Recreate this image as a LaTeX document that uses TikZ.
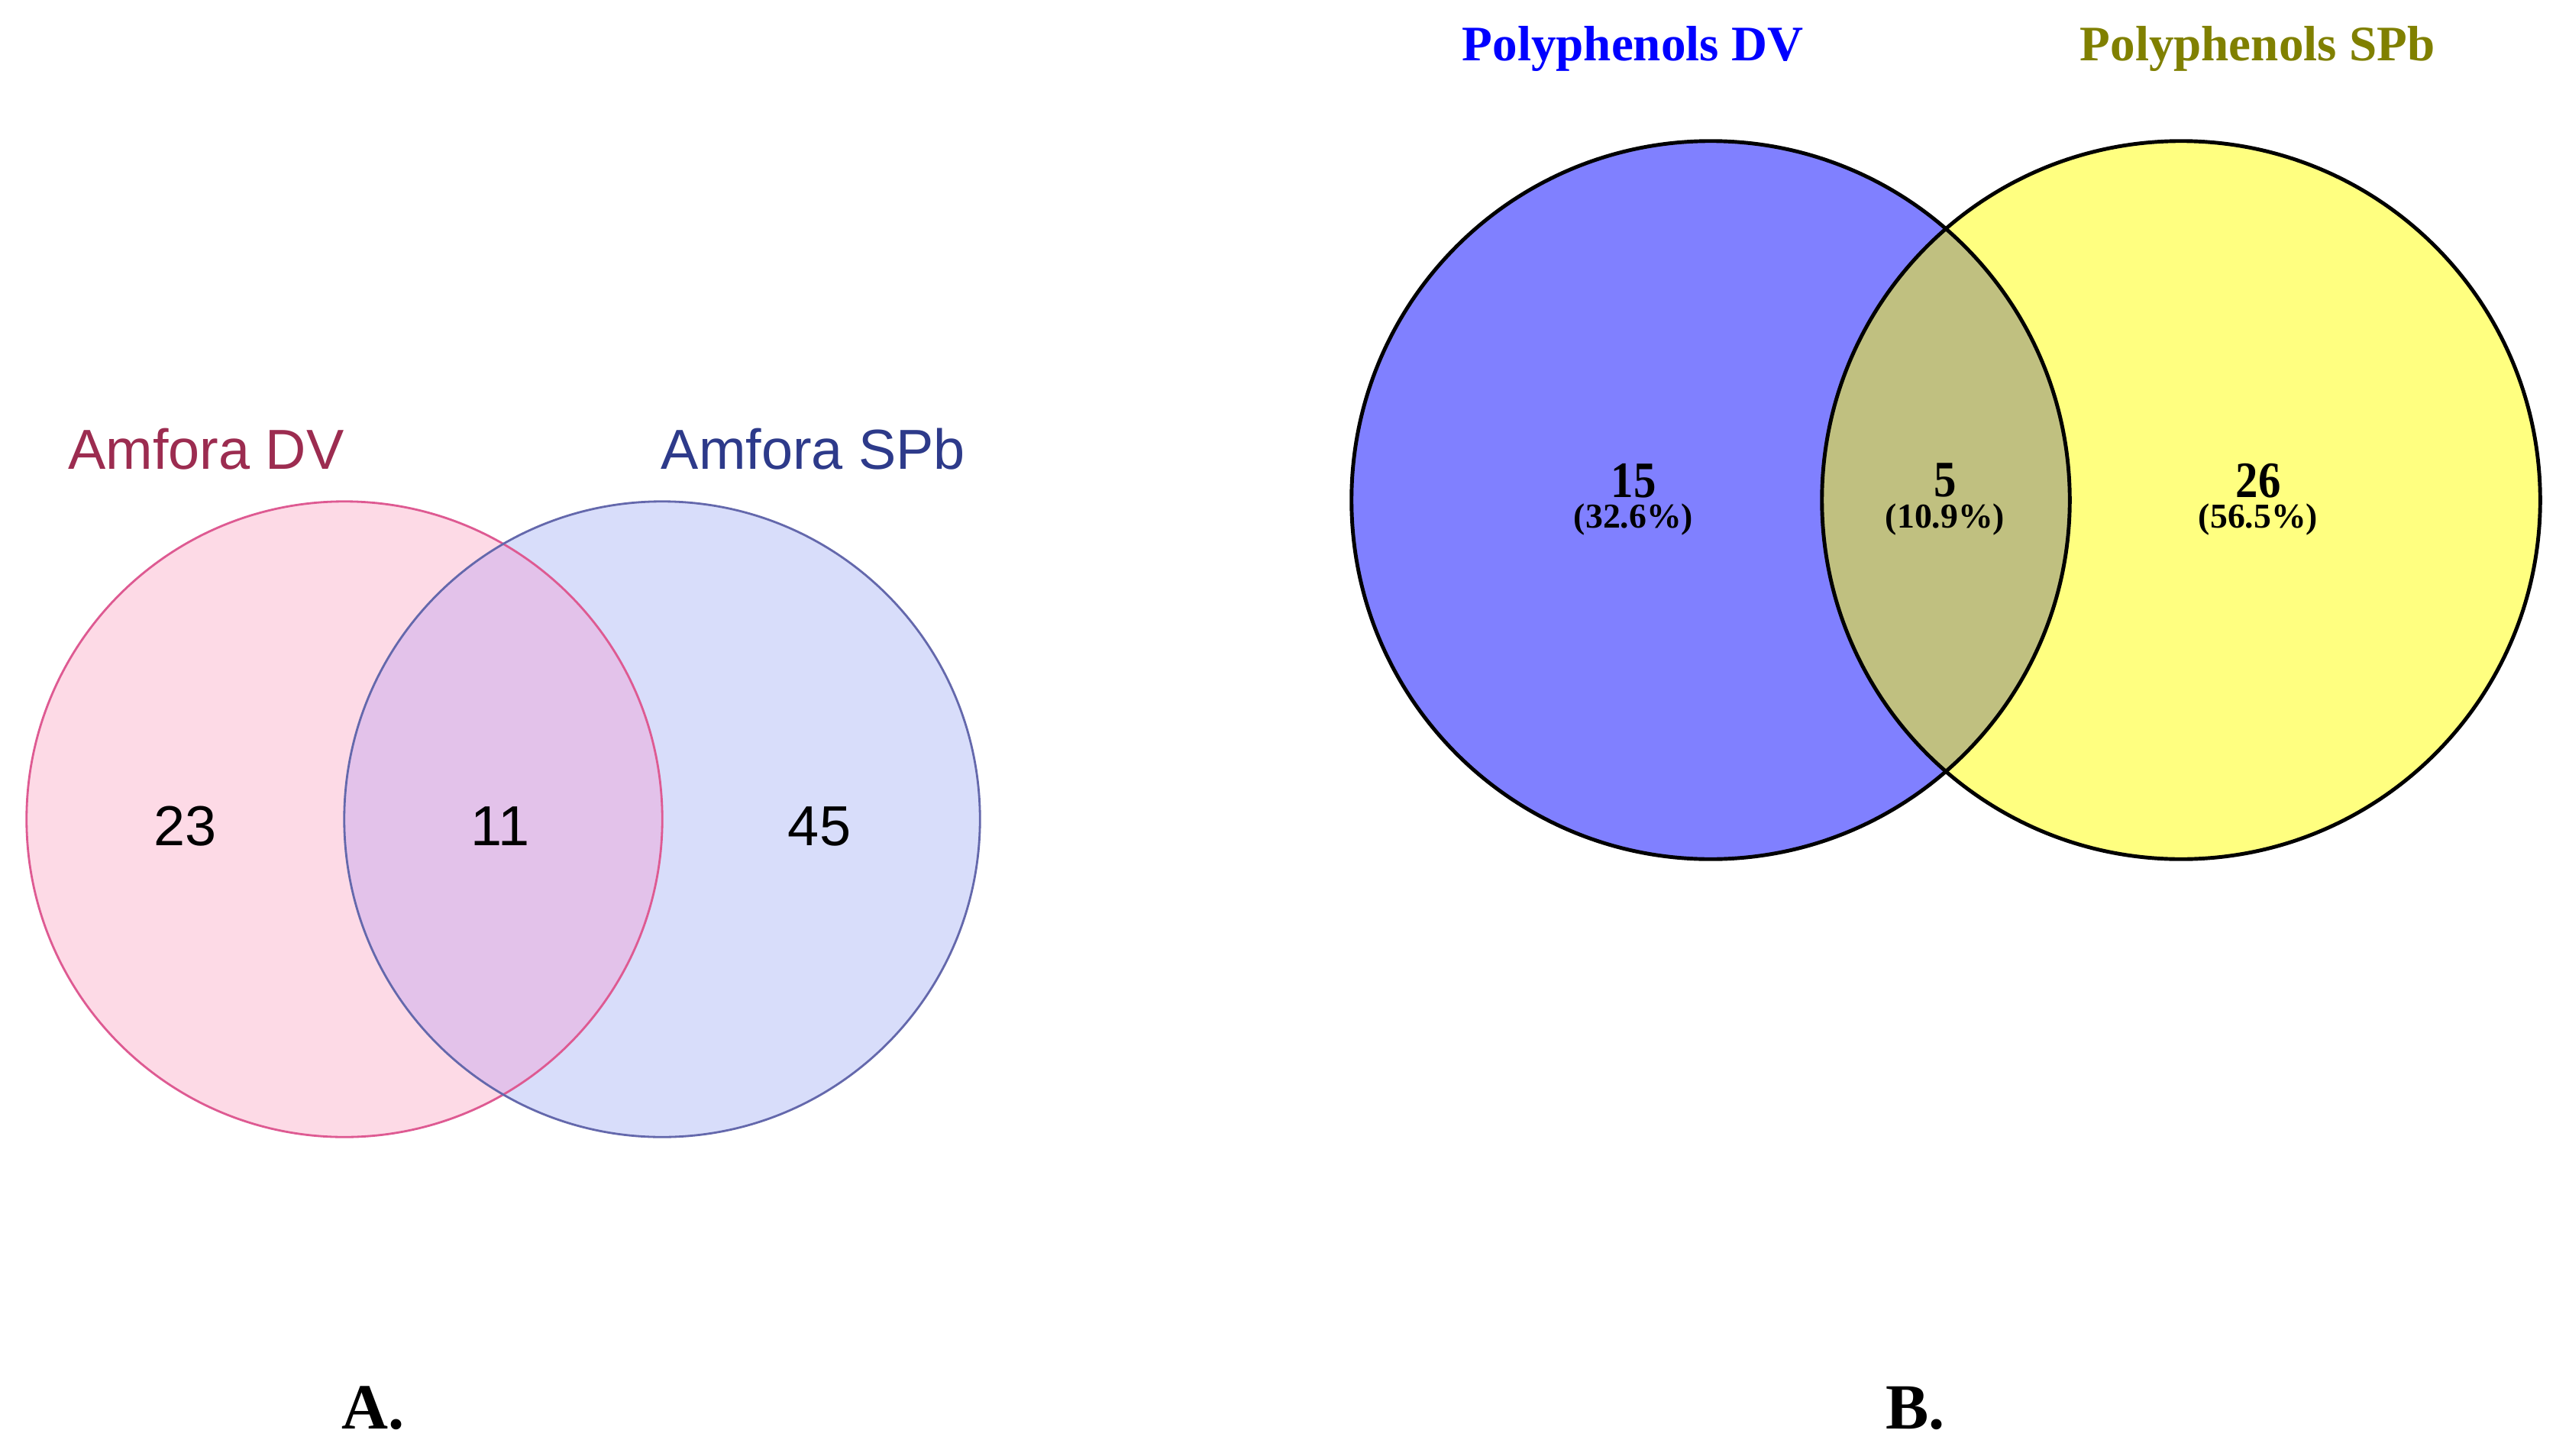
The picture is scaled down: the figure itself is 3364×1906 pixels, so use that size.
\documentclass[tikz,border=0pt]{standalone}
\usepackage{fontspec}
\setmainfont{Liberation Serif}
\newfontfamily\arialf{Liberation Sans}
\newfontfamily\condserif[FakeStretch=0.88]{Liberation Serif}
\definecolor{pinkfill}{HTML}{FDDAE6}
\definecolor{pinkline}{HTML}{DE5A92}
\definecolor{lavfill}{HTML}{D8DDFA}
\definecolor{lavline}{HTML}{6468AC}
\definecolor{mixfill}{HTML}{E3C2EA}
\definecolor{dvred}{HTML}{9C2C50}
\definecolor{spbblue}{HTML}{2D3A8A}
\definecolor{bluefill}{HTML}{8080FF}
\definecolor{yelfill}{HTML}{FFFF80}
\definecolor{olivefill}{HTML}{C0C080}
\definecolor{olivetext}{HTML}{808000}
\newcommand{\vennnum}[2]{{\condserif\bfseries\fontsize{19}{11.4}\selectfont #1}\\{\bfseries\fontsize{13}{11.4}\selectfont #2}}
\tikzset{
  x=0.01cm, y=-0.01cm,
  alabel/.style={font=\arialf\fontsize{21}{25}\selectfont, anchor=base, inner sep=0pt},
  anum/.style={font=\arialf\fontsize{21}{25}\selectfont, anchor=base, inner sep=0pt, text=black},
  blabel/.style={font=\bfseries\fontsize{18.5}{22}\selectfont, anchor=base, inner sep=0pt},
  bcount/.style={font=\bfseries\fontsize{13}{11.4}\selectfont, align=center, anchor=center, inner sep=0pt},
  panel/.style={font=\bfseries\fontsize{24}{28}\selectfont, anchor=base, inner sep=0pt},
}
\begin{document}
\begin{tikzpicture}
\useasboundingbox (0,0) rectangle (3364,1906);
\fill[white] (0,0) rectangle (3364,1906);
% ---------- Panel A ----------
\fill[pinkfill] (451,1073) circle [radius=4.16cm];
\fill[lavfill] (867,1073) circle [radius=4.16cm];
\begin{scope}
  \clip (451,1073) circle [radius=4.16cm];
  \fill[mixfill] (867,1073) circle [radius=4.16cm];
\end{scope}
\draw[pinkline, line width=0.8pt] (451,1073) circle [radius=4.16cm];
\draw[lavline, line width=0.8pt] (867,1073) circle [radius=4.16cm];
\node[alabel, text=dvred] (adv) at (270,614) {Amfora DV};
\node[alabel, text=spbblue] (aspb) at (1065,614) {Amfora SPb};
\node[anum] (a23) at (243,1107) {23};
\node[anum] (a11) at (655,1107) {11};
\node[anum] (a45) at (1073,1107) {45};
% ---------- Panel B ----------
\fill[bluefill] (2240,655) circle [radius=4.70cm];
\fill[yelfill] (2856,655) circle [radius=4.70cm];
\begin{scope}
  \clip (2240,655) circle [radius=4.70cm];
  \fill[olivefill] (2856,655) circle [radius=4.70cm];
\end{scope}
\draw[black, line width=1.4pt] (2240,655) circle [radius=4.70cm];
\draw[black, line width=1.4pt] (2856,655) circle [radius=4.70cm];
\node[blabel, text=blue] (pdv) at (2138,80) {Polyphenols DV};
\node[blabel, text=olivetext] (pspb) at (2956,80) {Polyphenols SPb};
\node[bcount] (b15) at (2139,654) {\vennnum{15}{(32.6\%)}};
\node[bcount] (b5) at (2547,654) {\vennnum{5}{(10.9\%)}};
\node[bcount] (b26) at (2957,654) {\vennnum{26}{(56.5\%)}};
% ---------- Panel letters ----------
\node[panel] (pa) at (489,1871) {A.};
\node[panel] (pb) at (2508,1871) {B.};
\end{tikzpicture}
\end{document}
